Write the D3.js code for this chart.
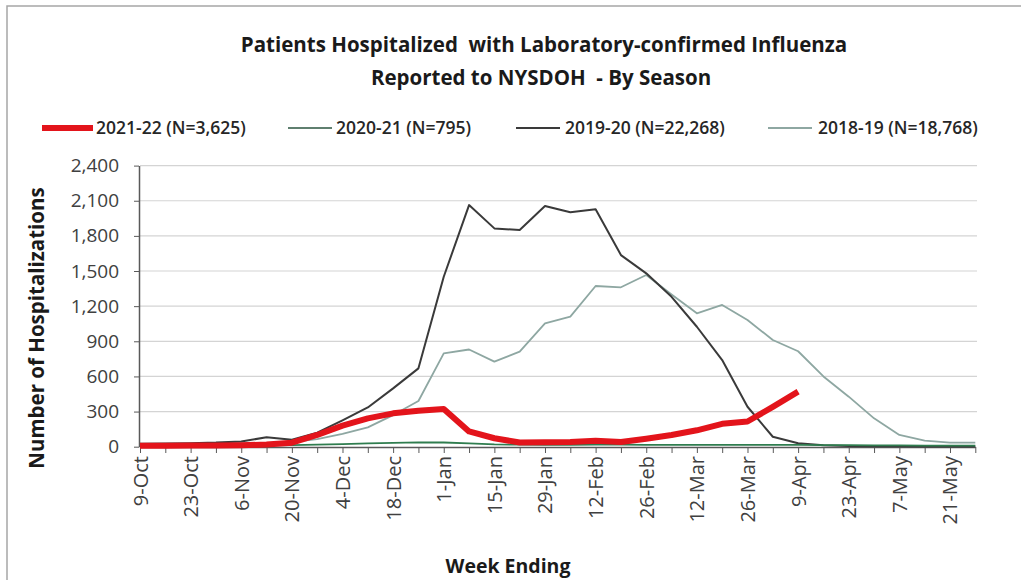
<!DOCTYPE html>
<html>
<head>
<meta charset="utf-8">
<script src="https://cdn.jsdelivr.net/npm/d3@7"></script>
<style>
  body { margin: 0; background: #fff; }
  svg { display: block; font-family: "Open Sans", "Noto Sans", sans-serif; }
</style>
</head>
<body>
<div id="chart"></div>
<script>
// week ending dates (Saturdays), one point per week
const weeks = ["9-Oct","16-Oct","23-Oct","30-Oct","6-Nov","13-Nov","20-Nov","27-Nov","4-Dec","11-Dec",
  "18-Dec","25-Dec","1-Jan","8-Jan","15-Jan","22-Jan","29-Jan","5-Feb","12-Feb","19-Feb",
  "26-Feb","5-Mar","12-Mar","19-Mar","26-Mar","2-Apr","9-Apr","16-Apr","23-Apr","30-Apr",
  "7-May","14-May","21-May","28-May"];

const yTicks = [0, 300, 600, 900, 1200, 1500, 1800, 2100, 2400];

// values
const s2122 = [8, 9, 10, 11, 13, 18, 34, 100, 180, 242, 285, 307, 322, 130, 72, 36, 38, 40, 50, 40,
  68, 100, 140, 195, 215, 340, 470];
const s2021 = [8, 8, 9, 10, 11, 12, 14, 18, 22, 28, 33, 37, 36, 28, 20, 17, 16, 16, 17, 17,
  16, 16, 15, 15, 16, 16, 15, 14, 13, 12, 11, 10, 10, 10];
const s1920 = [25, 28, 30, 35, 45, 80, 60, 120, 225, 335, 498, 669, 1451, 2063, 1864, 1850, 2055, 2001, 2027, 1636,
  1480, 1280, 1024, 740, 341, 85, 29, 12, 6, 4, 3, 2, 2, 2];
const s1819 = [20, 22, 24, 25, 28, 30, 40, 65, 110, 165, 270, 390, 797, 830, 726, 811, 1053, 1110, 1372, 1361,
  1466, 1300, 1139, 1210, 1082, 911, 815, 600, 427, 242, 100, 51, 34, 34];

const seriesNames = ["2021-22 (N=3,625)", "2020-21 (N=795)", "2019-20 (N=22,268)", "2018-19 (N=18,768)"];

const W = 1021, H = 580;

const svg = d3.select("#chart").append("svg")
  .attr("width", W)
  .attr("height", H);

svg.append("rect").attr("width", W).attr("height", H).attr("fill", "#fff");

// outer chart frame
svg.append("rect")
  .attr("x", 7).attr("y", 6)
  .attr("width", 1100).attr("height", 700)
  .attr("fill", "none")
  .attr("stroke", "#a6a6a6")
  .attr("stroke-width", 1.5);

//scales
const x = d3.scalePoint()
  .domain(weeks)
  .range([140, 975.3]);

const y = d3.scaleLinear()
  .domain([0, 2400])
  .range([446.7, 165.6]);

//gridlines
svg.append("g")
  .selectAll("line")
  .data(yTicks.filter(d => d > 0))
  .enter().append("line")
    .attr("x1", 140).attr("x2", 977)
    .attr("y1", d => y(d)).attr("y2", d => y(d))
    .attr("stroke", "#d4d4d4")
    .attr("stroke-width", 1.2);

//y axis
const yAxis = svg.append("g")
  .attr("transform", "translate(139,0)")
  .call(d3.axisLeft(y).tickValues(yTicks).tickSize(5).tickSizeOuter(0).tickPadding(15)
    .tickFormat(d3.format(",")));
yAxis.select(".domain").attr("stroke", "#595959").attr("stroke-width", 1.5);
yAxis.selectAll(".tick line").attr("stroke", "#595959");
yAxis.selectAll("text")
  .attr("fill", "#404040")
  .style("font-size", "19px")
  .style("font-family", "'Open Sans', sans-serif");

//x axis
const xAxis = svg.append("g")
  .attr("transform", "translate(0,447)")
  .call(d3.axisBottom(x).tickSize(6).tickSizeOuter(0)
    .tickFormat((d, i) => i % 2 === 0 ? d : ""));
xAxis.select(".domain").attr("stroke", "#595959").attr("stroke-width", 1.5);
xAxis.selectAll(".tick line").attr("stroke", "#595959");
xAxis.selectAll("text")
  .attr("x", -9)
  .attr("y", 0)
  .attr("dy", "0.35em")
  .attr("transform", "rotate(-90)")
  .style("text-anchor", "end")
  .attr("fill", "#404040")
  .style("font-size", "20px")
  .style("font-family", "'Open Sans', sans-serif");

//lines, drawn oldest season first so 2021-22 sits on top
const line = d3.line()
  .x((d, i) => x(weeks[i]))
  .y(d => y(d));

const drawOrder = [
  { data: s1819, color: "#8ea7a2", width: 1.8 },
  { data: s1920, color: "#3a3a3a", width: 2 },
  { data: s2021, color: "#2f7d4f", width: 1.8 },
  { data: s2122, color: "#e3141b", width: 6 }
];

svg.append("g")
  .selectAll("path")
  .data(drawOrder)
  .enter().append("path")
    .attr("d", d => line(d.data))
    .attr("fill", "none")
    .attr("stroke", d => d.color)
    .attr("stroke-width", d => d.width)
    .attr("stroke-linejoin", "round");

//legend
const legendItems = [
  { name: seriesNames[0], color: "#e3141b", width: 6, x1: 42, x2: 93, tx: 96 },
  { name: seriesNames[1], color: "#5f7f6f", width: 1.8, x1: 288, x2: 332, tx: 336 },
  { name: seriesNames[2], color: "#3a3a3a", width: 2, x1: 516, x2: 560, tx: 565 },
  { name: seriesNames[3], color: "#8ea7a2", width: 1.8, x1: 768, x2: 812, tx: 818 }
];

const legend = svg.append("g");
legend.selectAll("line")
  .data(legendItems)
  .enter().append("line")
    .attr("x1", d => d.x1).attr("x2", d => d.x2)
    .attr("y1", 128).attr("y2", 128)
    .attr("stroke", d => d.color)
    .attr("stroke-width", d => d.width);
legend.selectAll("text")
  .data(legendItems)
  .enter().append("text")
    .attr("x", d => d.tx)
    .attr("y", 134)
    .attr("fill", "#262626")
    .style("font-size", "17.5px")
    .style("font-weight", 600)
    .text(d => d.name);

//titles
svg.append("text")
  .attr("x", 544).attr("y", 52)
  .attr("text-anchor", "middle")
  .attr("fill", "#1a1a1a")
  .style("font-size", "20.5px")
  .style("font-weight", 700)
  .style("white-space", "pre")
  .text("Patients Hospitalized  with Laboratory-confirmed Influenza");

svg.append("text")
  .attr("x", 541).attr("y", 84.5)
  .attr("text-anchor", "middle")
  .attr("fill", "#1a1a1a")
  .style("font-size", "20.5px")
  .style("font-weight", 700)
  .style("white-space", "pre")
  .text("Reported to NYSDOH  - By Season");

svg.append("text")
  .attr("transform", "translate(44,328) rotate(-90)")
  .attr("text-anchor", "middle")
  .attr("fill", "#1a1a1a")
  .style("font-size", "20.5px")
  .style("font-weight", 700)
  .text("Number of Hospitalizations");

svg.append("text")
  .attr("x", 508).attr("y", 573)
  .attr("text-anchor", "middle")
  .attr("fill", "#1a1a1a")
  .style("font-size", "19.5px")
  .style("font-weight", 700)
  .text("Week Ending");
</script>
</body>
</html>
